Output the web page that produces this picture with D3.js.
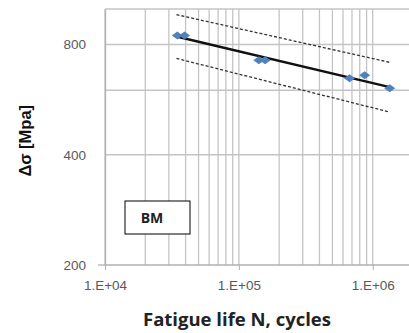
<!DOCTYPE html>
<html>
<head>
<meta charset="utf-8">
<script src="https://cdn.jsdelivr.net/npm/d3@7/dist/d3.min.js"></script>
<style>
  body { margin: 0; background: #fff; }
  .tick text { font-family: Arial, "Liberation Sans", sans-serif; fill: #595959; font-size: 13.5px; }
</style>
</head>
<body>
<div id="chart"></div>
<script>
// test data: cycles to failure and stress range
const cycles = [34700, 39300, 141000, 157000, 671000, 871000, 1340000];
const stress = [846, 846, 724, 724, 647, 659, 608];

// fitted curve and scatter band (end points)
const fitN = [34200, 1340000];
const fitS = [841, 612];
const upperS = [965, 715];
const lowerS = [733, 523];

const yTicks = [200, 400, 800];
const yGrid = [400, 600, 800, 1000];
const xTicks = [1e4, 1e5, 1e6];

const margin = { top: 9, right: 0, bottom: 68, left: 105 };
const width = 409 - margin.left - margin.right;
const height = 333 - margin.top - margin.bottom;

const svg = d3.select("#chart").append("svg")
    .attr("width", 409)
    .attr("height", 333)
    .append("g")
    .attr("transform", `translate(${margin.left},${margin.top})`);

const x = d3.scaleLog().domain([1e4, 2e6]).range([0, width + 4]);
const y = d3.scaleLog().base(2).domain([200, 1000]).range([height, 0]);

// vertical gridlines at every 1..9 x 10^n
const minor = [];
for (let e = 4; e <= 6; e++) {
    for (let m = 1; m <= 9; m++) {
        const v = m * Math.pow(10, e);
        if (v <= 2e6) minor.push(v);
    }
}
svg.selectAll(".vgrid").data(minor).enter().append("line")
    .attr("x1", d => x(d)).attr("x2", d => x(d))
    .attr("y1", 0).attr("y2", height)
    .attr("stroke", "#c4c4c4").attr("stroke-width", 1.3);

svg.selectAll(".hgrid").data(yGrid).enter().append("line")
    .attr("x1", 0).attr("x2", width)
    .attr("y1", d => y(d)).attr("y2", d => y(d))
    .attr("stroke", "#c4c4c4").attr("stroke-width", 1.3);

// axes
svg.append("g")
    .attr("transform", `translate(0,${height})`)
    .call(d3.axisBottom(x).tickValues(xTicks).tickSize(5).tickPadding(10)
        .tickFormat(d => "1.E+0" + Math.round(Math.log10(d))))
    .call(g => g.select(".domain").attr("stroke", "#b0b0b0").attr("stroke-width", 1.3).attr("d", `M0,0H${width}`))
    .call(g => g.selectAll(".tick line").attr("stroke", "#b0b0b0"));

svg.append("g")
    .call(d3.axisLeft(y).tickValues(yTicks).tickSize(0).tickPadding(19).tickFormat(d3.format("d")))
    .call(g => g.select(".domain").attr("stroke", "#b0b0b0").attr("stroke-width", 1.3))
    .call(g => g.selectAll(".tick line").remove());

// tick mark at 200 on the y axis
svg.append("line")
    .attr("x1", -7).attr("x2", 0)
    .attr("y1", y(200)).attr("y2", y(200))
    .attr("stroke", "#b0b0b0").attr("stroke-width", 1.3);

const line = d3.line().x(d => x(d[0])).y(d => y(d[1]));

svg.append("path")
    .attr("d", line(d3.zip(fitN, upperS)))
    .attr("fill", "none").attr("stroke", "#333").attr("stroke-width", 1.3)
    .attr("stroke-dasharray", "3,2");
svg.append("path")
    .attr("d", line(d3.zip(fitN, lowerS)))
    .attr("fill", "none").attr("stroke", "#333").attr("stroke-width", 1.3)
    .attr("stroke-dasharray", "3,2");

svg.append("path")
    .attr("d", line(d3.zip(fitN, fitS)))
    .attr("fill", "none").attr("stroke", "#111").attr("stroke-width", 2.5);

// diamonds
svg.selectAll(".pt").data(d3.zip(cycles, stress)).enter().append("path")
    .attr("d", "M-5.5,0L0,-4L5.5,0L0,4Z")
    .attr("transform", d => `translate(${x(d[0])},${y(d[1])})`)
    .attr("fill", "#4f81bd");

// BM label box
svg.append("rect")
    .attr("x", 20).attr("y", 192)
    .attr("width", 65).attr("height", 33)
    .attr("fill", "#fff").attr("stroke", "#000").attr("stroke-width", 1);
svg.append("text")
    .attr("x", 47).attr("y", 214)
    .attr("text-anchor", "middle")
    .style("font-family", "'Open Sans', sans-serif")
    .style("font-weight", "bold")
    .style("font-size", "14px")
    .style("fill", "#222")
    .text("BM");

// axis titles
svg.append("text")
    .attr("x", width / 2 - 20)
    .attr("y", height + 61)
    .attr("text-anchor", "middle")
    .style("font-family", "'Open Sans', sans-serif")
    .style("font-weight", "bold")
    .style("font-size", "18.5px")
    .style("fill", "#222")
    .text("Fatigue life N, cycles");

svg.append("text")
    .attr("transform", `translate(${-74},${y(400) - 14}) rotate(-90)`)
    .attr("text-anchor", "middle")
    .style("font-family", "Arial, 'Liberation Sans', sans-serif")
    .style("font-weight", "bold")
    .style("font-size", "16.5px")
    .style("fill", "#111")
    .text("Δσ [Mpa]");
</script>
</body>
</html>
